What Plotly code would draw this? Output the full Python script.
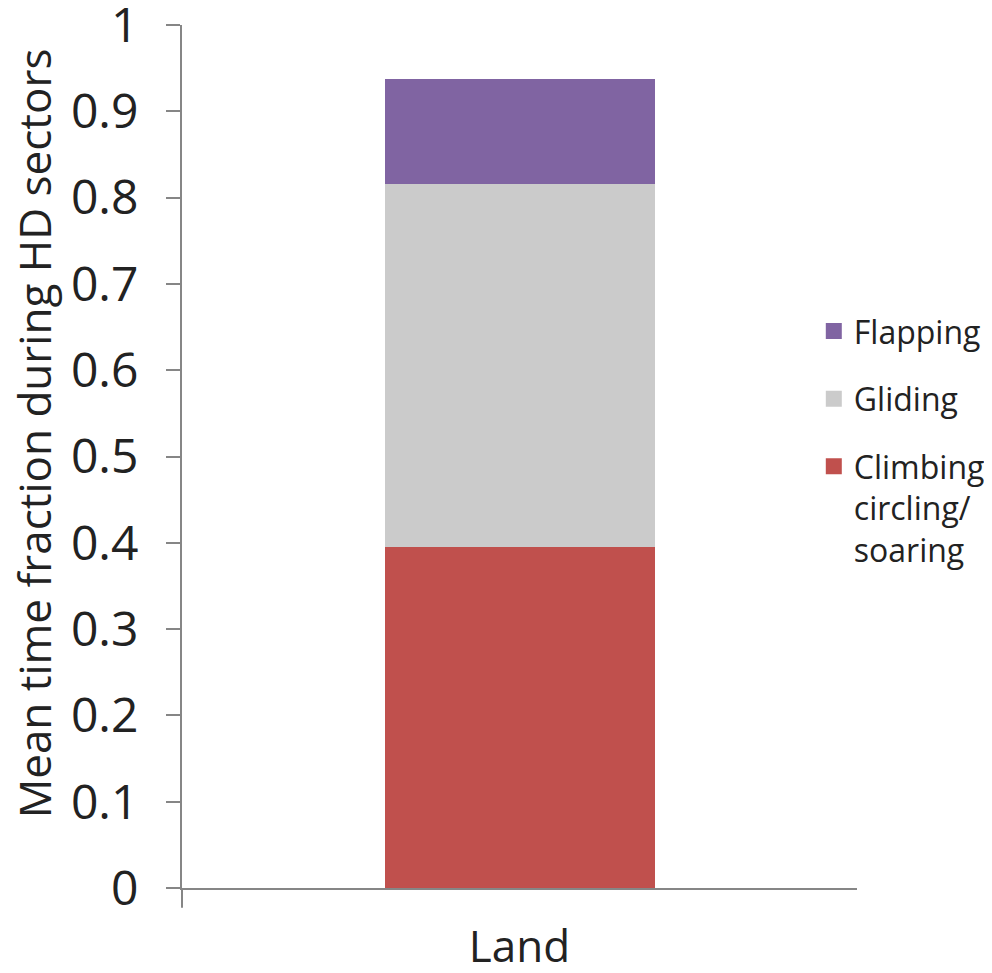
import plotly.graph_objects as go

categories = ["Land"]
climbing = [0.395]
gliding = [0.421]
flapping = [0.121]
series_names = ["Climbing<br>circling/<br>soaring", "Gliding", "Flapping"]
legend_ranks = [3, 2, 1]
colors = ["#C0504D", "#CBCBCB", "#8064A2"]
y_ticks = [0, 0.1, 0.2, 0.3, 0.4, 0.5, 0.6, 0.7, 0.8, 0.9, 1]
y_tick_text = ["0", "0.1", "0.2", "0.3", "0.4", "0.5", "0.6", "0.7", "0.8", "0.9", "1"]
y_title = "Mean time fraction during HD sectors"

fig = go.Figure()
for i, (name, vals) in enumerate(zip(series_names, [climbing, gliding, flapping])):
    fig.add_trace(go.Bar(x=categories, y=vals, name=name, marker_color=colors[i],
                         marker_line_width=0, showlegend=False))
    # legend entry with a larger square swatch
    fig.add_trace(go.Scatter(x=[None], y=[None], mode="markers", name=name,
                             marker=dict(symbol="square", size=16, color=colors[i]),
                             legendgroup=str(i), legendrank=legend_ranks[i],
                             showlegend=True, hoverinfo="skip"))

font = "Open Sans, Liberation Sans, sans-serif"
fig.update_layout(
    barmode="stack",
    bargap=0.6,
    width=1000, height=973,
    margin=dict(l=174, r=151, t=17, b=93),
    plot_bgcolor="white", paper_bgcolor="white",
    font=dict(family=font, color="#222222"),
    showlegend=True,
    legend=dict(traceorder="grouped", x=0.936, xanchor="left",
                y=0.677, yanchor="top",
                font=dict(size=32, family=font, color="#222222"), tracegroupgap=23,
                valign="top", itemwidth=30, bgcolor="rgba(0,0,0,0)"),
    xaxis=dict(showline=True, linecolor="#868686", linewidth=2, ticks="", automargin=False,
               tickfont=dict(size=44, family=font, color="#222222"), ticklabelstandoff=19),
    yaxis=dict(range=[0, 1], tickvals=y_ticks, ticktext=y_tick_text, showgrid=False,
               showline=True, linecolor="#868686", linewidth=2, ticks="outside",
               ticklen=14, tickcolor="#868686", tickwidth=2, automargin=False,
               ticklabelstandoff=18, ticklabeloverflow="allow",
               tickfont=dict(size=48, family=font, color="#222222"),
               zeroline=False),
)
fig.add_annotation(text=y_title, xref="paper", yref="paper", x=-0.219, y=0.527,
                   xanchor="center", yanchor="middle", textangle=-90, showarrow=False,
                   font=dict(size=44, family=font, color="#222222"))
fig.add_shape(type="line", xref="paper", yref="paper", x0=0, x1=0, y0=0, y1=-0.023,
              line=dict(color="#868686", width=2))
fig.write_html("out.html",
               post_script="document.documentElement.style.overflow='hidden';"
                           "document.body.style.overflow='hidden';")
